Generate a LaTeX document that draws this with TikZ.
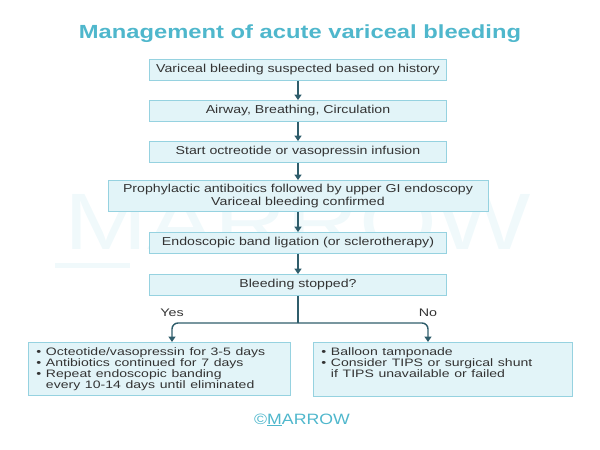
\documentclass[tikz,border=0pt]{standalone}
\usepackage{fontspec}
\setmainfont{Liberation Sans}
\usetikzlibrary{arrows.meta}
\definecolor{boxfill}{HTML}{E2F4F8}
\definecolor{boxline}{HTML}{96D2E0}
\definecolor{arrowc}{HTML}{2F5D6B}
\definecolor{titlec}{HTML}{4FB7CC}
\definecolor{txt}{HTML}{333333}
\definecolor{wm}{HTML}{F0F9FB}
\newcommand\wx[1]{\scalebox{1.23}[1]{#1}}
\newcommand\wy[1]{\scalebox{1.3}[1]{#1}}
\tikzset{
  stepbox/.style={draw=boxline, fill=boxfill, line width=0.8pt, text=txt, font=\fontsize{11.5}{12.5}\selectfont, align=center, inner sep=0pt},
  listbox/.style={draw=boxline, fill=boxfill, line width=0.8pt, text=txt, font=\fontsize{10.8}{11}\selectfont, align=left, anchor=north west, inner xsep=8pt, inner ysep=5pt, minimum height=51},
  flow/.style={draw=arrowc, line width=1.4pt, -{Triangle[length=5.5pt,width=7pt]}},
  lbl/.style={text=txt, font=\fontsize{11}{12}\selectfont}
}
\begin{document}
\begin{tikzpicture}[x=1pt,y=-1pt]
\useasboundingbox (0,0) rectangle (600,450);
% watermark
\node[text=wm, font=\fontsize{80}{80}\selectfont, xscale=1.25] (wmark) at (298,222) {MARROW};
\fill[wm] (55,263) rectangle (130,268);
% title
\node[text=titlec, font=\bfseries\fontsize{19}{22}\selectfont] (title) at (300,34) {\scalebox{1.25}[1]{Management of acute variceal bleeding}};
% boxes
\node[stepbox, minimum width=297, minimum height=21] (b1) at (298,70) {\wx{Variceal bleeding suspected based on history}};
\node[stepbox, minimum width=297, minimum height=21] (b2) at (298,111) {\wx{Airway, Breathing, Circulation}};
\node[stepbox, minimum width=297, minimum height=21] (b3) at (298,152) {\wx{Start octreotide or vasopressin infusion}};
\node[stepbox, minimum width=380, minimum height=31] (b4) at (298,196) {\wx{Prophylactic antiboitics followed by upper GI endoscopy}\\\wx{Variceal bleeding confirmed}};
\node[stepbox, minimum width=297, minimum height=21] (b5) at (298,243) {\wx{Endoscopic band ligation (or sclerotherapy)}};
\node[stepbox, minimum width=297, minimum height=21] (b6) at (298,285) {\wx{Bleeding stopped?}};
\node[listbox, minimum width=262, text width=246] (yesb) at (28,342) {\wy{• Octeotide/vasopressin for 3-5 days}\\\wy{• Antibiotics continued for 7 days}\\\wy{• Repeat endoscopic banding}\\\wy{\hphantom{• }every 10-14 days until eliminated}};
\node[listbox, minimum width=259, text width=243] (nob) at (313,342) {\wy{• Balloon tamponade}\\\wy{• Consider TIPS or surgical shunt}\\\wy{\hphantom{• }if TIPS unavailable or failed}\\\strut};
% arrows
\draw[flow] (b1) -- (b2);
\draw[flow] (b2) -- (b3);
\draw[flow] (b3) -- (b4);
\draw[flow] (b4) -- (b5);
\draw[flow] (b5) -- (b6);
\coordinate (split) at (298,323);
\draw[draw=arrowc, line width=1.4pt] (b6.south) -- (split);
\draw[flow, rounded corners=6pt] (split) -| (yesb.north -| 172,0);
\draw[flow, rounded corners=6pt] (split) -| (nob.north -| 428,0);
\node[lbl] (yes) at (172,313) {\wy{Yes}};
\node[lbl] (no) at (428,313) {\wy{No}};
% footer
\node[text=titlec, font=\fontsize{15}{17}\selectfont] (foot) at (302,420) {\scalebox{1.18}[1]{©\underline{M}ARROW}};
\end{tikzpicture}
\end{document}
